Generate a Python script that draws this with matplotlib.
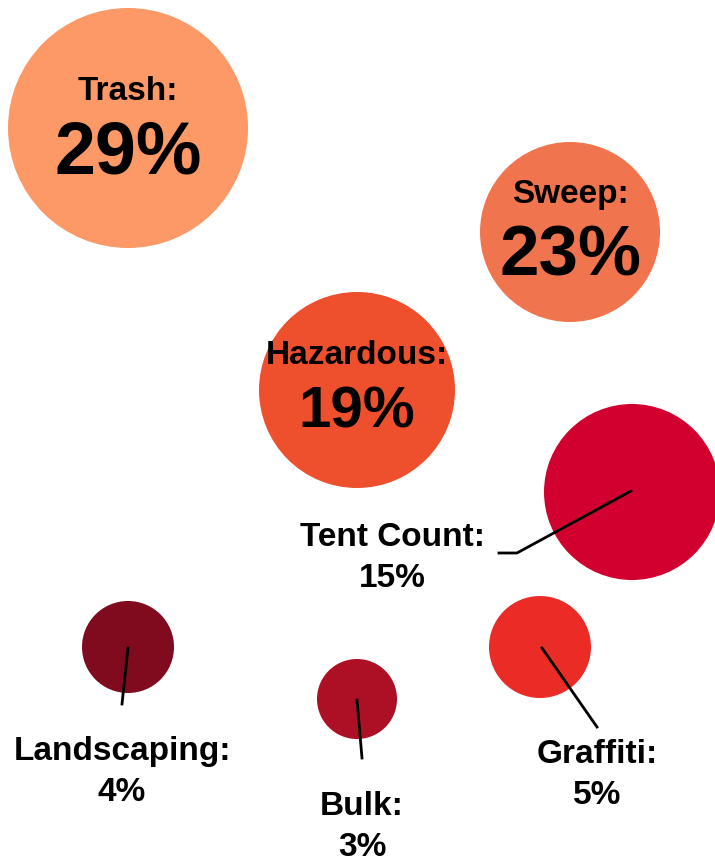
import matplotlib.pyplot as plt
from matplotlib.patches import Circle

# data
categories = ['Trash', 'Sweep', 'Hazardous', 'Tent Count', 'Landscaping', 'Bulk', 'Graffiti']
shares = [29, 23, 19, 15, 4, 3, 5]
colors = ['#FC9966', '#F0744E', '#EE4F2C', '#D2002F', '#800A1E', '#AD0F25', '#EB2C26']

# layout (pixels, y down)
centers = [(128, 128), (570, 232), (357, 390), (632, 492), (128, 647), (357, 699), (540, 647)]
radii = [120, 90, 98, 88, 46, 40, 51]
# labels inside: (name y, value y, name size, value size); outside: label pos + leader line
inside = {0: (91, 154, 24, 53), 1: (194, 257, 24, 51), 2: (355, 412, 24, 42)}
outside = {
    3: ((392, 558), [(631, 491), (517, 553), (499, 553)]),
    4: ((122, 772), [(128, 648), (122, 704)]),
    5: ((362, 827), [(357, 700), (362, 758)]),
    6: ((597, 775), [(542, 648), (597, 727)]),
}

plt.rcParams['font.family'] = ['Liberation Sans', 'DejaVu Sans']

fig = plt.figure(figsize=(7.15, 8.63), dpi=100)
ax = fig.add_axes([0, 0, 1, 1])
ax.set_xlim(0, 715)
ax.set_ylim(863, 0)
ax.set_aspect('equal')
ax.axis('off')

for i, (cat, val) in enumerate(zip(categories, shares)):
    ax.add_patch(Circle(centers[i], radii[i], color=colors[i], lw=0, zorder=1))
    if i in inside:
        ny, vy, ns, vs = inside[i]
        ax.text(centers[i][0], ny, f'{cat}:', ha='center', va='center',
                fontsize=ns, fontweight='bold', zorder=3)
        ax.text(centers[i][0], vy, f'{val}%', ha='center', va='center',
                fontsize=vs, fontweight='bold', zorder=3)
    else:
        (lx, ly), pts = outside[i]
        xs, ys = zip(*pts)
        ax.plot(xs, ys, color='black', lw=2, zorder=2)
        ax.text(lx, ly, f'{cat}:\n{val}%', ha='center', va='center',
                fontsize=24, fontweight='bold', linespacing=1.4, zorder=3)

fig.savefig('out.png', dpi=100)
